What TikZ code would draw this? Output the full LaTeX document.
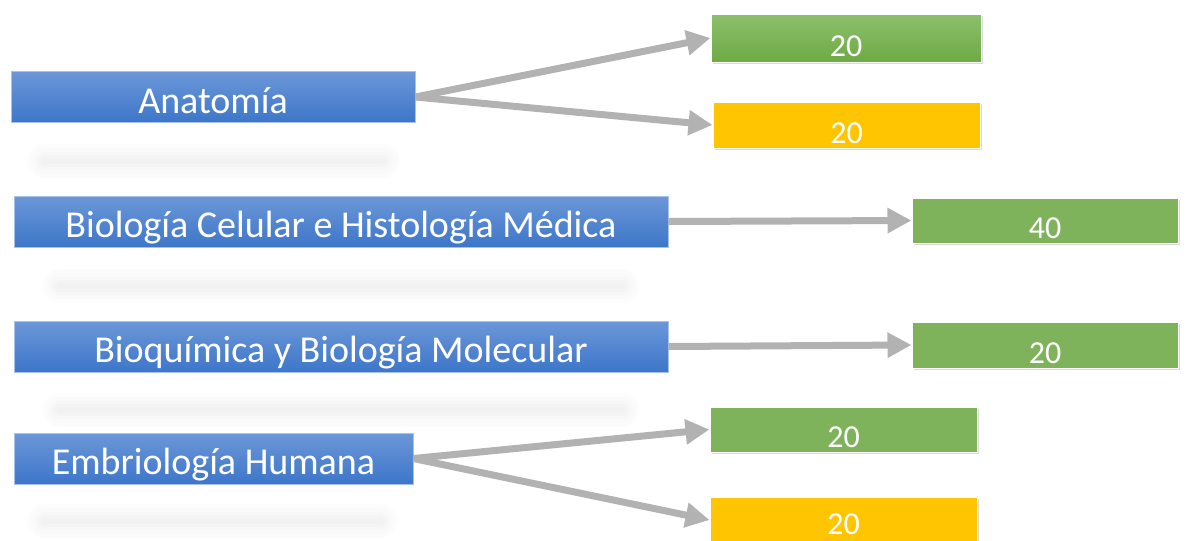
\documentclass[tikz,border=0pt]{standalone}
\usepackage{fontspec}
\setmainfont{Carlito}
\usetikzlibrary{arrows.meta,shadows}
\definecolor{subjtop}{HTML}{6C97D8}
\definecolor{subjbot}{HTML}{3D76C9}
\definecolor{gradetop}{HTML}{8CBF6C}
\definecolor{gradebot}{HTML}{6EAA45}
\definecolor{gradegreen}{HTML}{7FB35B}
\definecolor{gradeyellow}{HTML}{FFC500}
\definecolor{arrowgray}{HTML}{B2B2B2}
\tikzset{
  subject/.style={rectangle, inner sep=0pt, top color=subjtop, bottom color=subjbot,
    draw=subjtop!60!white, line width=0.5pt, text=white,
    font=\fontsize{28.5}{30}\selectfont, text height=24pt, text depth=0pt,
    minimum height=38.25pt},
  grade/.style={rectangle, inner sep=0pt, draw=white, line width=0.75pt, text=white,
    font=\fontsize{24}{26}\selectfont, text height=27pt, text depth=0pt,
    minimum height=34.5pt, minimum width=200.25pt,
    drop shadow={opacity=0.3, shadow xshift=1.5pt, shadow yshift=-1.5pt}},
  passed/.style={grade, fill=gradegreen},
  pending/.style={grade, fill=gradeyellow},
  link/.style={arrowgray, line width=5.25pt, -{Triangle[length=18pt,width=18pt]}},
}
\begin{document}
\begin{tikzpicture}[x=0.75pt,y=-0.75pt]
\useasboundingbox (0,0) rectangle (1189,540);

\foreach \ya/\xa/\xb in {161/45/382, 286/60/622, 410/60/622, 521/45/380}
  \foreach \w/\c in {26pt/2, 20pt/4, 14pt/6, 9pt/8.5, 5pt/10.5}
    \draw[line width=\w, line cap=round, gray!\c] (\xa,\ya) -- (\xb,\ya);

\node[subject, minimum width=303pt] (anat) at (213,97) {Anatomía};
\node[subject, minimum width=490.5pt] (celu) at (341,221.5) {Biología Celular e Histología Médica};
\node[subject, minimum width=490.5pt] (bioq) at (341,346.5) {Bioquímica y Biología Molecular};
\node[subject, minimum width=299.25pt] (embr) at (213.5,458.5) {Embriología Humana};

\node[grade, top color=gradetop, bottom color=gradebot, minimum width=202.5pt, minimum height=36pt]
  (anatok) at (846,38) {20};
\node[pending] (anatpend) at (846.5,125) {20};
\node[passed, minimum width=199.5pt, minimum height=33.75pt] (celuok) at (1045,220.5) {40};
\node[passed, minimum width=199.5pt] (bioqok) at (1045,345) {20};
\node[passed, minimum height=33.75pt] (embrok) at (843.5,429.5) {20};
\node[pending, minimum height=34.5pt, text height=21pt] (embrpend) at (843.5,520) {20};

\draw[link] (anat.east) -- (anatok.west);
\draw[link] (anat.east) -- (anatpend.west);
\draw[link] (celu.east) -- (celuok.west);
\draw[link] (bioq.east) -- (bioqok.west);
\draw[link] (embr.east) -- (embrok.west);
\draw[link] (embr.east) -- (embrpend.west);
\end{tikzpicture}
\end{document}
